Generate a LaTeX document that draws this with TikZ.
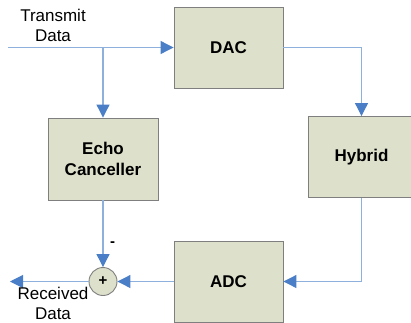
\documentclass[tikz,border=0pt]{standalone}
\usepackage{fontspec}
\setmainfont{Liberation Sans}
\usetikzlibrary{arrows.meta}
\definecolor{boxfill}{HTML}{DDE0CA}
\definecolor{boxedge}{HTML}{7F7F7F}
\definecolor{linkline}{HTML}{8EB0DC}
\definecolor{tipblue}{HTML}{4A7EC7}

\begin{document}
\begin{tikzpicture}[x=1pt,y=-1pt,
    blk/.style={draw=boxedge,line width=0.9pt,fill=boxfill,minimum width=109pt,minimum height=81pt,
      inner sep=0pt,align=center,font=\bfseries\fontsize{17}{21}\selectfont},
    link/.style={draw=linkline,line width=1.1pt,-{Triangle[width=13pt,length=13pt,color=tipblue,fill=tipblue]}},
    lbl/.style={align=center,font=\fontsize{17}{20}\selectfont}]
    \useasboundingbox (0,0) rectangle (411,322);

    % blocks
    \node[blk] (dac) at (228.5,47.5) {DAC};
    \node[blk,minimum width=110pt,minimum height=82pt] (echo) at (103,159) {Echo\\Canceller};
    \node[blk,minimum width=107pt] (hyb) at (361.5,157) {Hybrid};
    \node[blk] (adc) at (228.5,281.5) {ADC};
    \node[circle,draw=boxedge,line width=0.9pt,fill=boxfill,minimum size=28pt,inner sep=0pt,
      font=\bfseries\fontsize{15}{15}\selectfont] (sum) at (103,281.5) {+};

    \coordinate (tx) at (8,47.5);
    \coordinate (split) at (103,47.5);
    \coordinate (rx) at (10,281.5);

    % connectors
    \draw[link] (tx) -- (dac.west);
    \draw[link] (split) -- (echo.north);
    \draw[link] (dac.east) -| (hyb.north);
    \draw[link] (hyb.south) |- (adc.east);
    \draw[link] (adc.west) -- (sum.east);
    \draw[link] (echo.south) -- (sum.north);
    \draw[link] (sum.west) -- (rx);

    % labels
    \node[lbl] (txlbl) at (53,25) {Transmit\\Data};
    \node[lbl] (rxlbl) at (53,303) {Received\\Data};
    \node[font=\bfseries\fontsize{15}{15}\selectfont] (minus) at (112.5,244) {-};
\end{tikzpicture}
\end{document}
